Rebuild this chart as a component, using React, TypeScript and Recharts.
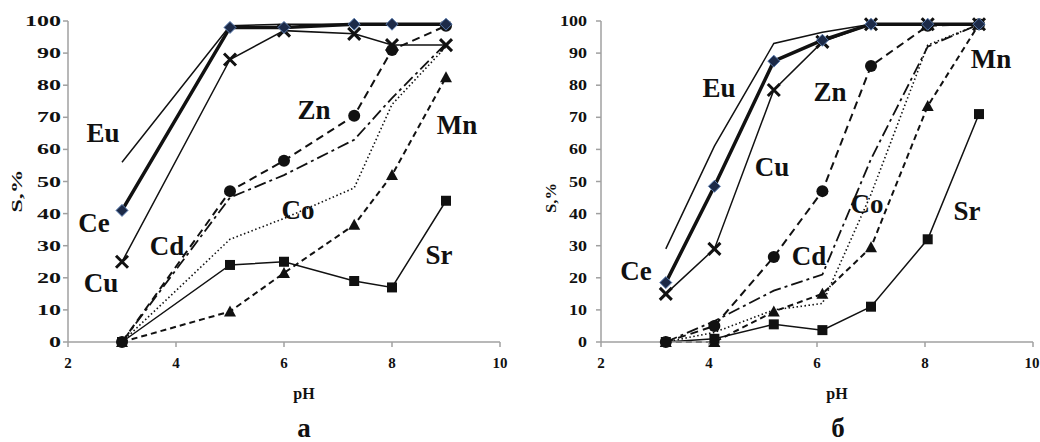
import React from 'react';
import { LineChart, Line, XAxis, YAxis } from 'recharts';

// pH points (x) for each panel
const pHLeft = [3, 5, 6, 7.3, 8, 9];
const pHRight = [3.2, 4.1, 5.2, 6.1, 7, 8.05, 9];

// panel "а" — sorption S, %
const euLeft = [56, 98.5, 99, 99, 99, 99];
const ceLeft = [41, 98, 98, 99, 99, 99];
const cuLeft = [25, 88, 97, 96, 92.5, 92.5];
const znLeft = [0, 47, 56.5, 70.5, 91, 98.5];
const cdLeft = [0, 45, 52, 63, 76, 93];
const coLeft = [0, 32, 38.5, 48, 74, 92];
const mnLeft = [0, 9.5, 21.5, 36.5, 52, 82.5];
const srLeft = [0, 24, 25, 19, 17, 44];

// panel "б"
const euRight = [29, 61, 93, 96.5, 99, 99, 99];
const ceRight = [18.5, 48.5, 87.5, 94, 99, 99, 99];
const cuRight = [15, 29, 78.5, 93.5, 99, 99, 99];
const znRight = [0, 5, 26.5, 47, 86, 98.5, 99];
const cdRight = [0, 6.5, 16, 21, 57, 92, 99];
const coRight = [0, 3, 10, 12, 46, 92.5, 99];
const mnRight = [0, 0, 9.5, 15, 29.5, 73.5, 99];
const srRight = [0, 1, 5.5, 3.7, 11, 32, 71];

const xTicks = [2, 4, 6, 8, 10];
const yTicks = [0, 10, 20, 30, 40, 50, 60, 70, 80, 90, 100];

const FONT = '"Liberation Serif", "Times New Roman", serif';
const INK = '#111';
const AXIS = '#a0a0a0';

const zip = (xs: number[], ys: number[]) => ys.map((y, i) => ({ x: xs[i], y }));

// markers
const Diamond = (p: any) => {
  const { cx, cy } = p;
  if (cx == null || cy == null) return <g key={p.index} />;
  return (
    <path
      key={p.index}
      d={`M${cx},${cy - 6} L${cx + 6},${cy} L${cx},${cy + 6} L${cx - 6},${cy} Z`}
      fill="#1c2a48"
      stroke="#5b7db0"
      strokeWidth={1}
    />
  );
};
const Cross = (p: any) => {
  const { cx, cy } = p;
  if (cx == null || cy == null) return <g key={p.index} />;
  const s = 6;
  return (
    <path
      key={p.index}
      d={`M${cx - s},${cy - s} L${cx + s},${cy + s} M${cx + s},${cy - s} L${cx - s},${cy + s}`}
      stroke="#111"
      strokeWidth={3}
      fill="none"
    />
  );
};
const Dot = (p: any) => {
  const { cx, cy } = p;
  if (cx == null || cy == null) return <g key={p.index} />;
  return <circle key={p.index} cx={cx} cy={cy} r={6} fill="#111" />;
};
const Tri = (p: any) => {
  const { cx, cy } = p;
  if (cx == null || cy == null) return <g key={p.index} />;
  return <path key={p.index} d={`M${cx},${cy - 6} L${cx + 6},${cy + 5} L${cx - 6},${cy + 5} Z`} fill="#111" />;
};
const Sq = (p: any) => {
  const { cx, cy } = p;
  if (cx == null || cy == null) return <g key={p.index} />;
  return <rect key={p.index} x={cx - 5} y={cy - 5} width={10} height={10} fill="#111" />;
};

const makeYTick = (perDigit: number) => (p: any) => {
  const v = String(p.payload.value);
  return (
    <text
      x={p.x}
      y={p.y + 5}
      textAnchor="end"
      fontFamily={FONT}
      fontWeight="bold"
      fontSize={15}
      fill={INK}
      textLength={v.length * perDigit}
      lengthAdjust="spacingAndGlyphs"
    >
      {v}
    </text>
  );
};

const XTick = (p: any) => (
  <text x={p.x} y={p.y + 19} textAnchor="middle" fontFamily={FONT} fontWeight="bold" fontSize={15} fill={INK}>
    {p.payload.value}
  </text>
);

interface PanelProps {
  xs: number[];
  eu: number[];
  ce: number[];
  cu: number[];
  zn: number[];
  cd: number[];
  co: number[];
  mn: number[];
  sr: number[];
  yAxisWidth: number;
  rightMargin: number;
  tickMargin: number;
  perDigit: number;
}

const Panel: React.FC<PanelProps> = ({ xs, eu, ce, cu, zn, cd, co, mn, sr, yAxisWidth, rightMargin, tickMargin, perDigit }) => (
  <LineChart width={520} height={442} margin={{ top: 21, right: rightMargin, bottom: 70, left: 0 }}>
    <XAxis
      type="number"
      dataKey="x"
      domain={[2, 10]}
      ticks={xTicks}
      tick={<XTick />}
      tickSize={5}
      stroke={AXIS}
      strokeWidth={1.5}
      height={30}
    />
    <YAxis
      type="number"
      dataKey="y"
      domain={[0, 100]}
      ticks={yTicks}
      tick={makeYTick(perDigit)}
      tickSize={5}
      tickMargin={tickMargin}
      stroke={AXIS}
      strokeWidth={1.5}
      width={yAxisWidth}
    />
    <Line data={zip(xs, eu)} dataKey="y" stroke="#111" strokeWidth={1.5} dot={false} isAnimationActive={false} />
    <Line data={zip(xs, co)} dataKey="y" stroke="#111" strokeWidth={1.6} strokeDasharray="1.5 2.5" dot={false} isAnimationActive={false} />
    <Line data={zip(xs, cd)} dataKey="y" stroke="#111" strokeWidth={1.8} strokeDasharray="12 4 3 4" dot={false} isAnimationActive={false} />
    <Line data={zip(xs, mn)} dataKey="y" stroke="#111" strokeWidth={2} strokeDasharray="6 4" dot={Tri} isAnimationActive={false} />
    <Line data={zip(xs, zn)} dataKey="y" stroke="#111" strokeWidth={2} strokeDasharray="8 5" dot={Dot} isAnimationActive={false} />
    <Line data={zip(xs, sr)} dataKey="y" stroke="#111" strokeWidth={1.5} dot={Sq} isAnimationActive={false} />
    <Line data={zip(xs, cu)} dataKey="y" stroke="#111" strokeWidth={1.5} dot={Cross} isAnimationActive={false} />
    <Line data={zip(xs, ce)} dataKey="y" stroke="#111" strokeWidth={3.5} dot={Diamond} isAnimationActive={false} />
  </LineChart>
);

// element labels: [text, centerX, centerY]
const labelsLeft: [string, number, number][] = [
  ['Eu', 103, 133], ['Ce', 94, 223], ['Cu', 101, 283], ['Cd', 167, 246],
  ['Zn', 314, 110], ['Co', 298, 210], ['Mn', 457, 125], ['Sr', 439, 255],
];
const labelsRight: [string, number, number][] = [
  ['Eu', 719, 88], ['Cu', 772, 167], ['Zn', 830, 92], ['Mn', 991, 59],
  ['Co', 867, 204], ['Cd', 809, 256], ['Sr', 967, 211], ['Ce', 636, 271],
];

export default function App() {
  return (
    <div style={{ position: 'absolute', left: 0, top: 0, width: 1040, height: 442, background: '#fff' }}>
      <div style={{ position: 'absolute', left: 0, top: 0 }}>
        <Panel xs={pHLeft} eu={euLeft} ce={ceLeft} cu={cuLeft} zn={znLeft} cd={cdLeft} co={coLeft} mn={mnLeft} sr={srLeft}
          yAxisWidth={68} rightMargin={20} tickMargin={2} perDigit={12} />
      </div>
      <div style={{ position: 'absolute', left: 520, top: 0 }}>
        <Panel xs={pHRight} eu={euRight} ce={ceRight} cu={cuRight} zn={znRight} cd={cdRight} co={coRight} mn={mnRight} sr={srRight}
          yAxisWidth={81} rightMargin={7} tickMargin={9} perDigit={9} />
      </div>
      <svg width={1040} height={442} style={{ position: 'absolute', left: 0, top: 0, pointerEvents: 'none' }}>
        <g fontFamily={FONT} fontWeight="bold" fill={INK}>
          {[...labelsLeft, ...labelsRight].map(([t, x, y]) => (
            <text key={t + x} x={x} y={y + 9} fontSize={27} textAnchor="middle">{t}</text>
          ))}
          <text x={0} y={0} fontSize={15} textAnchor="middle" textLength={43} lengthAdjust="spacingAndGlyphs"
            transform="translate(22,191) rotate(-90)">S,%</text>
          <text x={0} y={0} fontSize={15} textAnchor="middle" textLength={30} lengthAdjust="spacingAndGlyphs"
            transform="translate(556,198) rotate(-90)">S,%</text>
          <text x={304} y={399} fontSize={16} textAnchor="middle">pH</text>
          <text x={837} y={399} fontSize={16} textAnchor="middle">pH</text>
          <text x={304} y={437} fontSize={27} textAnchor="middle">а</text>
          <text x={838} y={437} fontSize={27} textAnchor="middle">б</text>
        </g>
      </svg>
    </div>
  );
}
